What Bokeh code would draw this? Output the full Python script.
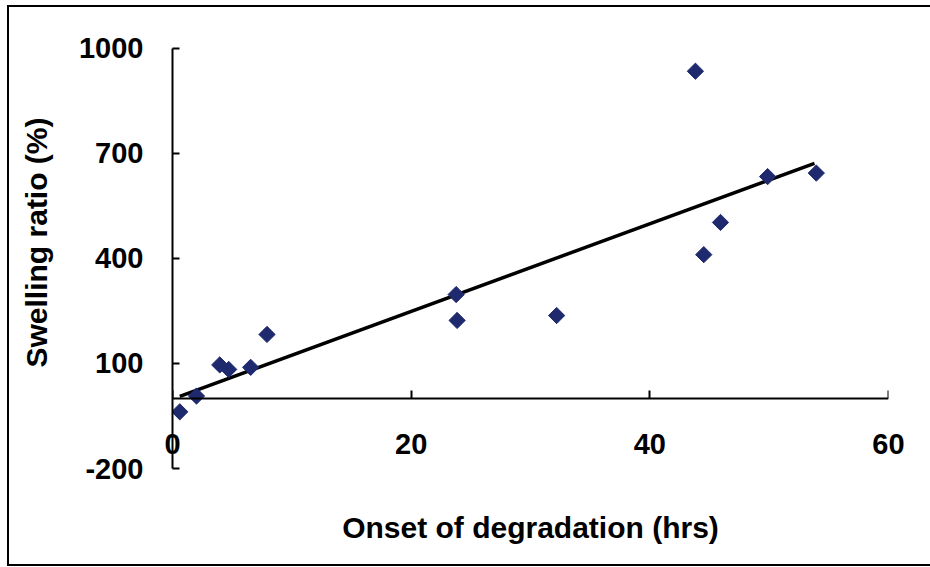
from bokeh.plotting import figure
from bokeh.models import ColumnDataSource, FixedTicker, LinearAxis
from bokeh.embed import file_html
from bokeh.resources import INLINE
import numpy as np

# data
onset_hrs = [0.61, 2.01, 3.96, 4.71, 6.55, 7.92, 23.77, 23.85, 32.19, 43.82, 44.52, 45.92, 49.87, 53.95]
swelling_pct = [-38, 7, 96, 83, 89, 183, 297, 223, 237, 935, 411, 503, 634, 644]
trend_x = [0.61, 53.8]
trend_y = [6, 672]
x_ticks = [0, 20, 40, 60]
y_ticks = [-200, 100, 400, 700, 1000]
y_tick_labels = {-200: "-200"}

FONT = "Liberation Sans"

# frame extends a little above 1000 so the y title sits where the original has it;
# the y axis line itself is limited to -200..1000 with bounds
p = figure(frame_width=716, frame_height=452,
           x_range=(0, 60), y_range=(-200, 1091.4),
           min_border_left=163, min_border_top=9, min_border_right=42, min_border_bottom=96,
           output_backend="svg", toolbar_location=None,
           background_fill_color="white", border_fill_color="white")
p.outline_line_color = None
p.grid.visible = False
p.styles = {"border-left": "2px solid black", "border-top": "2px solid black",
            "border-bottom": "2px solid black", "margin-left": "7px", "margin-top": "5px"}

src = ColumnDataSource(dict(x=onset_hrs, y=swelling_pct))
p.line(trend_x, trend_y, line_color="black", line_width=3.5)
p.scatter("x", "y", source=src, marker="square", angle=np.pi / 4, size=11.5,
          fill_color="#1f2a6e", line_color="#1f2a6e")

# bottom axis: only tick labels and title (line drawn by the crossing axis below)
xa = p.xaxis[0]
xa.ticker = FixedTicker(ticks=x_ticks)
xa.axis_line_color = None
xa.major_tick_line_color = None
xa.minor_tick_line_color = None
xa.major_tick_in = 0
xa.major_tick_out = 0
xa.major_label_standoff = -35
xa.major_label_text_font = FONT
xa.major_label_text_font_style = "bold"
xa.major_label_text_font_size = "29px"
xa.major_label_text_color = "black"
xa.axis_label = "Onset of degradation (hrs)"
xa.axis_label_text_font = FONT
xa.axis_label_text_font_style = "bold"
xa.axis_label_text_font_size = "30px"
xa.axis_label_text_color = "black"
xa.axis_label_standoff = 54

# x axis line crossing at y = 0
x0 = LinearAxis(fixed_location=0, ticker=FixedTicker(ticks=x_ticks))
x0.axis_line_width = 2
x0.major_tick_line_width = 2
x0.major_tick_in = 8
x0.major_tick_out = 0
x0.minor_tick_line_color = None
x0.major_label_text_alpha = 0
x0.major_label_text_font_size = "1px"
p.add_layout(x0, "below")

ya = p.yaxis[0]
ya.ticker = FixedTicker(ticks=y_ticks)
ya.bounds = (-200, 1000)
ya.major_label_overrides = y_tick_labels
ya.axis_line_width = 2
ya.major_tick_line_width = 2
ya.major_tick_in = 7
ya.major_tick_out = 0
ya.minor_tick_line_color = None
ya.major_label_standoff = 29
ya.major_label_text_font = FONT
ya.major_label_text_font_style = "bold"
ya.major_label_text_font_size = "29px"
ya.major_label_text_color = "black"
ya.axis_label = "Swelling ratio (%)"
ya.axis_label_text_font = FONT
ya.axis_label_text_font_style = "bold"
ya.axis_label_text_font_size = "30px"
ya.axis_label_text_color = "black"
ya.axis_label_standoff = 23

open("out.html", "w").write(file_html(p, INLINE))
